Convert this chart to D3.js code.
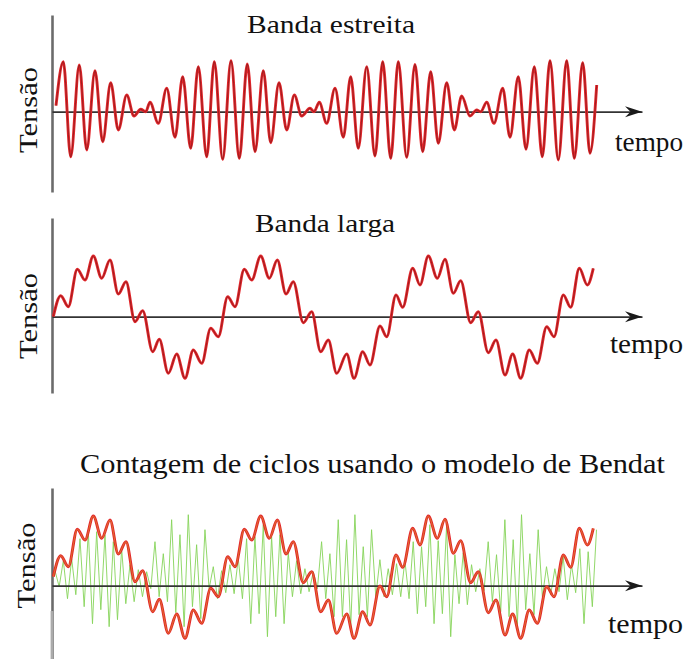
<!DOCTYPE html>
<html>
<head>
<meta charset="utf-8">
<script src="https://cdn.jsdelivr.net/npm/d3@7"></script>
<style>
body { margin: 0; background: #fff; }
</style>
</head>
<body>
<svg id="chart"></svg>
<script>
// extremos: [tempo, tensao]
var bandaEstreita = [
 [4, 6], [11.3, 50], [18.7, -45], [27.3, 46.7], [34.7, -38.3], [43, 41], [50.7, -30], [58.7, 29],
 [66.3, -18.3], [74.7, 16.7], [82, -4.3], [88.7, 2.4], [93.7, 0], [98, 9.4], [106.3, -11.6],
 [114.7, 23.4], [123, -25.6], [130.7, 35], [138.7, -36.6], [146.3, 45], [154.7, -45], [162.3, 50],
 [170.7, -47.6], [179, 51], [187.3, -46.6], [195.3, 47.7], [203, -40], [211.3, 41], [218.7, -31],
 [227, 29], [234.7, -18.3], [242.3, 16.7], [249.7, -4.3], [258, 3.4], [262, 0], [267.3, 9.4],
 [274.7, -11.6], [283, 23.4], [291.3, -25.6], [298.7, 35], [306.3, -36.6], [314.7, 45], [323, -44.3],
 [330.7, 50], [338.7, -46.6], [346.3, 50], [354.7, -45.6], [363, 47.2], [370.7, -40], [378.7, 40],
 [386.3, -31.6], [394.7, 29], [402.3, -18.3], [409.7, 15.7], [418, -4.3], [424.7, 1.7], [428.7, 0],
 [434.7, 9.4], [442, -11.6], [450.7, 23.4], [458, -25.6], [466.3, 35], [474, -37.6], [482.3, 45],
 [490.3, -45], [498, 51], [506.3, -48.3], [514.7, 51], [522.3, -46.6], [530.7, 49], [538, -41.6],
 [544.7, 26.7]
]

var bandaLarga = [
 [1.3, 0], [8.7, 21], [16.3, 10], [25.3, 47.4], [33, 36.7], [41.3, 60.7], [49.7, 38.4], [58, 56.7],
 [66.3, 22.7], [74, 35], [83, -5], [90.7, 6], [100.7, -35], [107.3, -22.6], [116.3, -56.6],
 [124.7, -37.3], [133, -61.6], [141.3, -33.3], [149.7, -46.6], [158.7, -11.6], [166.3, -20],
 [175.7, 20], [183, 10], [192.3, 47.4], [199.7, 36.7], [208.7, 60.7], [217.3, 38.4], [225.3, 56.7],
 [234, 22.7], [241.3, 35], [251.3, -6], [259.7, 5], [268.7, -35], [276.3, -23.3], [284.7, -56.6],
 [294.7, -37.3], [302, -61.6], [310.7, -35], [318, -48.3], [328, -9.3], [334.7, -20], [344, 21.7],
 [350.7, 9.4], [360.7, 48.4], [368, 31.7], [376.3, 60.7], [385.3, 38.4], [393, 57.4], [401.3, 23.4],
 [408.7, 36], [418.7, -6], [426.3, 5], [436.3, -36], [444, -23.3], [453, -58.3], [460.7, -37.3],
 [468.7, -61.6], [477.3, -33.3], [485.3, -46.6], [494.7, -10], [502, -20], [511.3, 21.7],
 [518.7, 9.4], [527.3, 48.4], [535.3, 31.7], [541.3, 48.4]
]

// sinal verde (Bendat): picos e vales em sequencia
var bendatVerde = [
 6, -10, 16, -22, 18, -18, 38, -30, 45, -47, 45, -33, 42, -50, 35, -43, 28, -27, 12, -25, 7, -20, 5, -12,
 35, -20, 23, -25, 57, -36, 42, -50, 62, -30, 32, -42, 47, -12, 10, -22, 6, -16, 12, -17,
 18, -22, 38, -47, 40, -37, 52, -60, 40, -40, 42, -47, 24, -20, 16, -17, 8, -15, 5, -12,
 35, -22, 23, -40, 57, -40, 37, -50, 62, -38, 30, -40, 47, -20, 17, -20, 8, -18, 13, -20,
 16, -22, 35, -37, 30, -30, 52, -47, 36, -37, 50, -60, 22, -27, 24, -28, 12, -15, 8, -14,
 35, -25, 22, -35, 57, -40, 37, -48, 62, -33, 23, -38, 47, -20, 10, -18, 8, -15,
 20, -23, 12, -16, 28, -47, 25, -30, 47
]
var verdeInicio = 3, verdeFim = 544.5
var eixoBendat = -9

var titulos = ["Banda estreita", "Banda larga", "Contagem de ciclos usando o modelo de Bendat"]

var width = 691, height = 659
var fonte = "'Liberation Serif', 'Times New Roman', serif"

var svg = d3.select("#chart")
  .attr("width", width)
  .attr("height", height)

var x = d3.scaleLinear()
  .domain([0, 590])
  .range([52, 642])

var y1 = d3.scaleLinear().domain([-80.3, 96.7]).range([192, 15])
var y2 = d3.scaleLinear().domain([-76.3, 98.7]).range([393, 218])
var y3 = d3.scaleLinear().domain([-82.3, 88.7]).range([659, 488])

function eixos(y, zero) {
  var g = svg.append("g")
  g.append("g")
    .attr("transform", "translate(" + x(0) + ",0)")
    .call(d3.axisLeft(y).tickValues([]).tickSizeOuter(0))
    .select(".domain")
    .attr("stroke", "#6b6b6b")
    .attr("stroke-width", 2.6)

  g.append("g")
    .attr("transform", "translate(0," + y(zero) + ")")
    .call(d3.axisBottom(x).tickValues([]).tickSizeOuter(0))
    .select(".domain")
    .attr("stroke", "#333")
    .attr("stroke-width", 1.8)

  // ponta da seta
  g.append("path")
    .attr("d", "M0,0 L-17,-5.5 L-11.5,0 L-17,5.5 Z")
    .attr("transform", "translate(" + x(590) + "," + y(zero) + ")")
    .attr("fill", "#1a1a1a")
  return g
}

function sinal(data, y, cor, miolo, largura) {
  var line = d3.line()
    .x(d => x(d[0]))
    .y(d => y(d[1]))
    .curve(d3.curveMonotoneX)

  svg.append("path")
    .datum(data)
    .attr("d", line)
    .attr("fill", "none")
    .attr("stroke", cor)
    .attr("stroke-width", largura)
    .attr("stroke-linejoin", "round")

  svg.append("path")
    .datum(data)
    .attr("d", line)
    .attr("fill", "none")
    .attr("stroke", miolo)
    .attr("stroke-width", 0.9)
    .style("opacity", .75)
}

// Painel 1
eixos(y1, 0)
sinal(bandaEstreita, y1, "#e3262b", "#7d1a1a", 2.9)

// Painel 2
eixos(y2, 0)
sinal(bandaLarga, y2, "#e3262b", "#7d1a1a", 2.9)

// Painel 3
var xv = d3.scaleLinear()
  .domain([0, bendatVerde.length - 1])
  .range([x(verdeInicio), x(verdeFim)])

svg.append("path")
  .datum(bendatVerde)
  .attr("d", d3.line().x((d, i) => xv(i)).y(d => y3(d)))
  .attr("fill", "none")
  .attr("stroke", "#86d45a")
  .attr("stroke-width", 1)
  .style("opacity", .9)

eixos(y3, eixoBendat)
svg.append("line")
  .attr("x1", x(0)).attr("x2", x(0))
  .attr("y1", 611).attr("y2", height)
  .attr("stroke", "#ababab")
  .attr("stroke-width", 2.8)

sinal(bandaLarga, y3, "#e3262b", "#dc9a30", 2.9)

// textos
function texto(sel, fs, len) {
  return sel.style("font-family", fonte).style("fill", "#111")
    .attr("font-size", fs).attr("textLength", len).attr("lengthAdjust", "spacingAndGlyphs")
}

texto(svg.append("text").attr("x", 331).attr("y", 33).attr("text-anchor", "middle"), 26, 168).text(titulos[0])
texto(svg.append("text").attr("x", 325).attr("y", 232).attr("text-anchor", "middle"), 26, 140).text(titulos[1])
texto(svg.append("text").attr("x", 372.5).attr("y", 473).attr("text-anchor", "middle"), 27, 585).text(titulos[2])

var tempos = [[615, 151, 68], [610, 353, 73], [608, 633, 75]]
tempos.forEach(t => {
  texto(svg.append("text").attr("x", t[0]).attr("y", t[1]), 27, t[2]).text("tempo")
})

var tensoes = [[37, 110], [37, 316], [35, 565.5]]
tensoes.forEach(t => {
  texto(svg.append("text")
    .attr("transform", "translate(" + t[0] + "," + t[1] + ") rotate(-90)")
    .attr("text-anchor", "middle"), 26, 86)
    .text("Tensão")
})
</script>
</body>
</html>
